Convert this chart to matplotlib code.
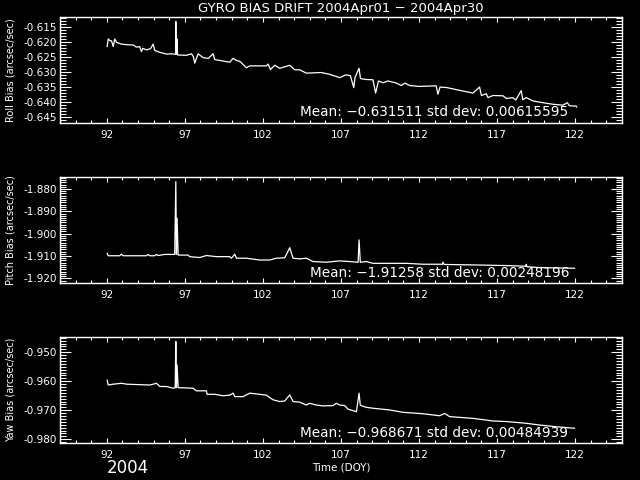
import numpy as np
import matplotlib
matplotlib.use("Agg")
import matplotlib.pyplot as plt
from matplotlib.ticker import FixedLocator, MultipleLocator, FormatStrFormatter

# Roll bias (arcsec/sec) vs day of year
roll_doy = [92.02, 92.09, 92.20, 92.30, 92.41, 92.51, 92.62, 92.94, 93.30, 93.69,
            93.90, 94.10, 94.22, 94.30, 94.54, 94.80, 94.97, 95.07, 95.39, 95.82,
            96.14, 96.40, 96.42, 96.45, 96.50, 96.53, 97.10, 97.42, 97.55, 97.63,
            97.85, 98.17, 98.50, 98.81, 98.91, 99.45, 99.88, 100.09, 100.30, 100.52,
            100.94, 101.16, 102.22, 102.33, 102.48, 102.76, 103.08, 103.72, 104.04, 104.36,
            104.78, 105.74, 106.28, 106.92, 107.30, 107.60, 107.82, 107.90, 108.16, 108.25,
            108.60, 109.05, 109.22, 109.40, 109.70, 110.00, 110.50, 110.87, 111.10, 111.40,
            112.00, 113.10, 113.21, 113.35, 113.80, 114.60, 115.46, 115.88, 116.00, 116.31,
            116.42, 116.74, 117.38, 117.60, 118.00, 118.20, 118.55, 118.65, 118.87, 119.30,
            119.72, 120.58, 121.22, 121.50, 121.64, 122.07, 122.10]
roll_bias = [-0.6216, -0.6191, -0.6197, -0.6197, -0.6216, -0.6191, -0.6202, -0.6208, -0.6210, -0.6211,
             -0.6218, -0.6216, -0.6233, -0.6222, -0.6227, -0.6223, -0.6208, -0.6229, -0.6235, -0.6241,
             -0.6240, -0.6242, -0.6133, -0.6242, -0.6191, -0.6244, -0.6245, -0.6240, -0.6250, -0.6271,
             -0.6240, -0.6253, -0.6255, -0.6240, -0.6259, -0.6264, -0.6268, -0.6255, -0.6262, -0.6265,
             -0.6286, -0.6280, -0.6280, -0.6274, -0.6292, -0.6278, -0.6288, -0.6278, -0.6293, -0.6293,
             -0.6304, -0.6302, -0.6308, -0.6319, -0.6310, -0.6312, -0.6352, -0.6318, -0.6288, -0.6322,
             -0.6325, -0.6326, -0.6370, -0.6330, -0.6336, -0.6330, -0.6336, -0.6345, -0.6337, -0.6345,
             -0.6348, -0.6346, -0.6374, -0.6350, -0.6352, -0.6361, -0.6370, -0.6350, -0.6378, -0.6372,
             -0.6385, -0.6378, -0.6379, -0.6388, -0.6385, -0.6393, -0.6362, -0.6392, -0.6385, -0.6396,
             -0.6400, -0.6407, -0.6410, -0.6402, -0.6412, -0.6413, -0.6416]

# Pitch bias
pitch_doy = [92.02, 92.09, 92.83, 92.94, 93.05, 94.54, 94.65, 94.75, 95.07, 95.18,
             95.29, 95.71, 96.35, 96.42, 96.46, 96.50, 96.57, 97.20, 97.31, 97.95,
             98.38, 99.02, 99.87, 99.98, 100.20, 100.30, 100.94, 101.80, 102.44, 102.86,
             103.40, 103.72, 103.93, 104.36, 104.78, 105.21, 106.06, 106.92, 107.56, 108.10,
             108.16, 108.24, 108.63, 109.05, 111.19, 112.25, 113.50, 113.54, 113.60, 115.46,
             117.59, 118.85, 118.87, 118.92, 119.72, 121.96]
pitch_bias = [-1.9088, -1.9099, -1.9099, -1.9092, -1.9099, -1.9099, -1.9093, -1.9099, -1.9099, -1.9093,
              -1.9098, -1.9093, -1.9093, -1.8767, -1.9093, -1.8931, -1.9096, -1.9096, -1.9103, -1.9107,
              -1.9098, -1.9103, -1.9103, -1.9110, -1.9092, -1.9110, -1.9110, -1.9118, -1.9118, -1.9110,
              -1.9108, -1.9063, -1.9110, -1.9113, -1.9110, -1.9125, -1.9128, -1.9122, -1.9125, -1.9128,
              -1.9028, -1.9128, -1.9125, -1.9133, -1.9133, -1.9137, -1.9137, -1.9128, -1.9138, -1.9140,
              -1.9143, -1.9146, -1.9137, -1.9148, -1.9152, -1.9155]

# Yaw bias
yaw_doy = [92.02, 92.09, 92.41, 92.94, 93.26, 94.75, 95.18, 95.39, 95.82, 96.25,
           96.38, 96.42, 96.46, 96.50, 96.57, 97.53, 97.74, 98.38, 98.42, 98.91,
           99.45, 99.88, 100.09, 100.20, 100.73, 101.16, 101.80, 102.22, 102.65, 103.08,
           103.40, 103.72, 103.93, 104.36, 104.78, 105.00, 105.42, 105.85, 106.49, 106.70,
           106.92, 107.24, 107.45, 107.99, 108.16, 108.24, 108.63, 109.05, 110.12, 110.97,
           112.25, 113.32, 113.64, 113.96, 115.46, 116.74, 117.59, 118.87, 119.72, 120.79,
           121.96]
yaw_bias = [-0.9596, -0.9613, -0.9610, -0.9607, -0.9610, -0.9613, -0.9607, -0.9618, -0.9618, -0.9624,
            -0.9622, -0.9463, -0.9622, -0.9544, -0.9622, -0.9624, -0.9633, -0.9633, -0.9645, -0.9645,
            -0.9650, -0.9648, -0.9641, -0.9653, -0.9653, -0.9641, -0.9645, -0.9648, -0.9664, -0.9670,
            -0.9668, -0.9647, -0.9670, -0.9672, -0.9682, -0.9676, -0.9682, -0.9685, -0.9684, -0.9676,
            -0.9682, -0.9684, -0.9696, -0.9705, -0.9641, -0.9683, -0.9690, -0.9693, -0.9699, -0.9707,
            -0.9712, -0.9719, -0.9711, -0.9722, -0.9728, -0.9737, -0.9739, -0.9745, -0.9751, -0.9757,
            -0.9762]

panel_labels = ["Roll Bias (arcsec/sec)", "Pitch Bias (arcsec/sec)", "Yaw Bias (arcsec/sec)"]
stats_text = ["Mean: \u22120.631511 std dev: 0.00615595",
              "Mean: \u22121.91258 std dev: 0.00248196",
              "Mean: \u22120.968671 std dev: 0.00484939"]
day_labels = [92, 97, 102, 107, 112, 117, 122]

plt.rcParams['font.family'] = ['DejaVu Sans']

fig = plt.figure(figsize=(6.4, 4.8), dpi=100, facecolor='black')

# [left, bottom, width, height], ylim, major step, data, stats text position
panels = [
    ([0.09375, 0.74375, 0.878, 0.221], (-0.6469, -0.6118), 0.005, roll_doy, roll_bias, 0.427, 0.104),
    ([0.09375, 0.41042, 0.878, 0.221], (-1.9221, -1.8746), 0.010, pitch_doy, pitch_bias, 0.445, 0.094),
    ([0.09375, 0.07708, 0.878, 0.221], (-0.9813, -0.9447), 0.010, yaw_doy, yaw_bias, 0.427, 0.094),
]

for i, (rect, ylim, step, xs, ys, tx, ty) in enumerate(panels):
    ax = fig.add_axes(rect, facecolor='black')
    ax.plot(xs, ys, color='white', lw=0.9)
    ax.set_xlim(89, 125)
    ax.set_ylim(*ylim)
    for s in ax.spines.values():
        s.set_color('white')
        s.set_linewidth(1.0)
    ax.xaxis.set_major_locator(FixedLocator(day_labels))
    ax.xaxis.set_minor_locator(MultipleLocator(1))
    ax.yaxis.set_major_locator(MultipleLocator(step))
    ax.yaxis.set_minor_locator(MultipleLocator(0.001))
    ax.yaxis.set_major_formatter(FormatStrFormatter('%.3f'))
    ax.tick_params(axis='x', which='major', direction='in', length=3.5, width=0.8,
                   colors='white', labelsize=7.5, top=True, pad=5)
    ax.tick_params(axis='x', which='minor', direction='in', length=2.2, width=0.8,
                   colors='white', top=True)
    ax.tick_params(axis='y', which='major', direction='in', length=8, width=0.8,
                   colors='white', labelsize=7.5, right=True, pad=2)
    ax.tick_params(axis='y', which='minor', direction='in', length=4, width=0.8,
                   colors='white', right=True)
    ax.text(tx, ty, stats_text[i], transform=ax.transAxes, color='white',
            fontsize=9.8, ha='left', va='center')
    ycen = rect[1] + rect[3] / 2
    fig.text(0.016, ycen, panel_labels[i], color='white', fontsize=7,
             rotation=90, ha='center', va='center')
    if i == 2:
        ax.set_xlabel('Time (DOY)', color='white', fontsize=7.5, labelpad=2)

fig.text(0.533, 0.983, 'GYRO BIAS DRIFT 2004Apr01 \u2212 2004Apr30', color='white',
         fontsize=9.5, ha='center', va='center')
fig.text(0.2, 0.006, '2004', color='white', fontsize=12, ha='center', va='bottom')

fig.savefig("out.png", dpi=100, facecolor='black')
